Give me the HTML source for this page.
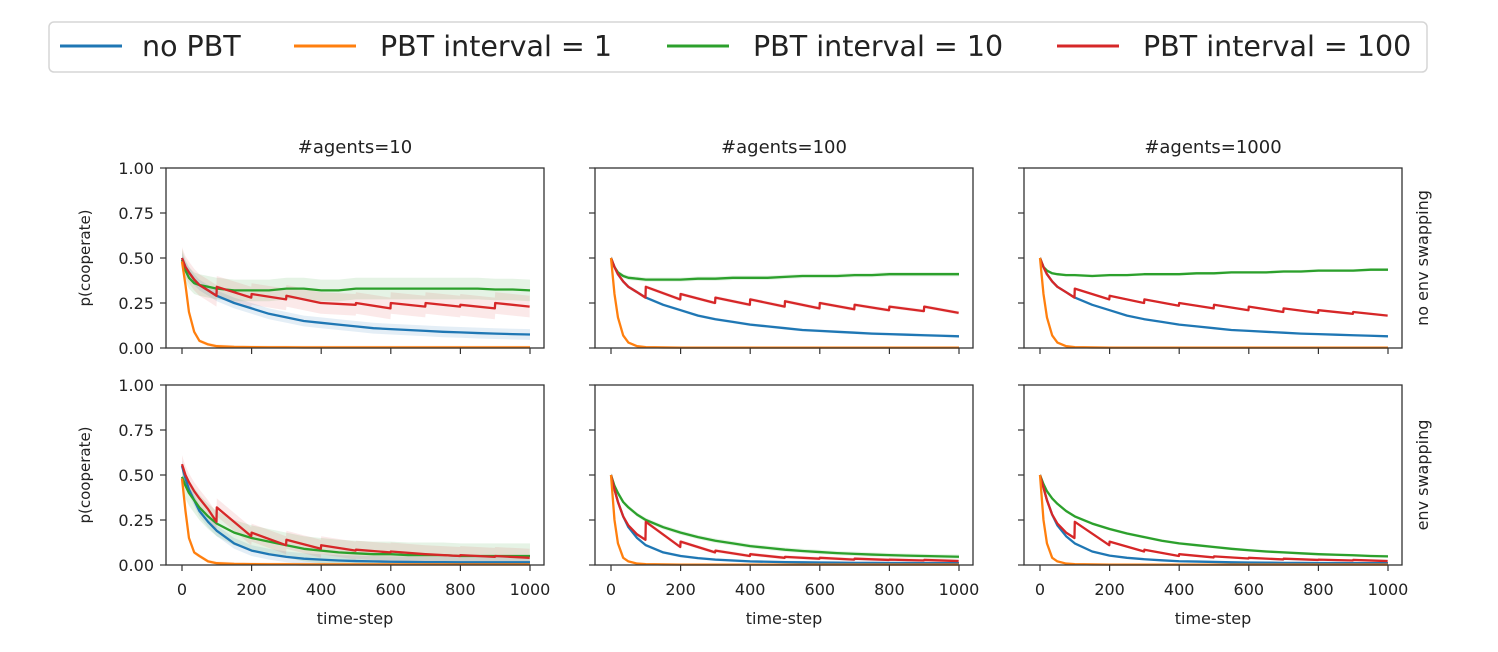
<!DOCTYPE html>
<html><head><meta charset="utf-8"><style>
html,body{margin:0;padding:0;background:#fff;}
svg{display:block;font-family:"DejaVu Sans","Liberation Sans",sans-serif;}
</style></head><body>
<svg id="chart" width="1498" height="652" viewBox="0 0 1498 652">
<g>
<rect x="49" y="22" width="1378" height="50" rx="5" fill="#fff" stroke="#d6d6d6" stroke-width="1.5"/>
<g><line x1="60" y1="46" x2="122" y2="46" stroke="#1f77b4" stroke-width="3"/><text x="142" y="56" font-size="28.5" fill="#222">no PBT</text></g>
<g><line x1="294" y1="46" x2="356" y2="46" stroke="#ff7f0e" stroke-width="3"/><text x="380" y="56" font-size="28.5" fill="#222">PBT interval = 1</text></g>
<g><line x1="667" y1="46" x2="729" y2="46" stroke="#2ca02c" stroke-width="3"/><text x="753" y="56" font-size="28.5" fill="#222">PBT interval = 10</text></g>
<g><line x1="1057" y1="46" x2="1119" y2="46" stroke="#d62728" stroke-width="3"/><text x="1143" y="56" font-size="28.5" fill="#222">PBT interval = 100</text></g>
</g>
<g id="panels"></g>
</svg>
<script>
// shared time grid for smooth series
const times = [0,10,20,35,50,75,100,150,200,250,300,350,400,450,500,550,600,650,700,750,800,850,900,950,1000];
const xTicks = [0,200,400,600,800,1000];
const yTicks = [0,0.25,0.5,0.75,1.0];
const yTickLabels = ["0.00","0.25","0.50","0.75","1.00"];
const colTitles = ["#agents=10","#agents=100","#agents=1000"];
const rowTitles = ["no env swapping","env swapping"];
const jumpTimes = [100,200,300,400,500,600,700,800,900];

// row 0 (no env swapping)
const blue_r0c0 = [0.50,0.45,0.42,0.38,0.35,0.32,0.29,0.25,0.22,0.19,0.17,0.15,0.14,0.13,0.12,0.11,0.105,0.10,0.095,0.09,0.087,0.083,0.08,0.077,0.075];
const orange_r0c0 = [0.48,0.35,0.20,0.09,0.04,0.02,0.01,0.006,0.005,0.004,0.004,0.003,0.003,0.003,0.003,0.003,0.003,0.003,0.003,0.003,0.003,0.003,0.003,0.003,0.003];
const green_r0c0 = [0.49,0.43,0.39,0.36,0.35,0.34,0.33,0.32,0.32,0.32,0.33,0.33,0.32,0.32,0.33,0.33,0.33,0.33,0.33,0.33,0.33,0.33,0.325,0.325,0.32];
const redStart_r0c0 = [0.34,0.30,0.29,0.25,0.25,0.25,0.25,0.24,0.25];
const redEnd_r0c0 = [0.28,0.27,0.25,0.24,0.22,0.23,0.23,0.22,0.23];

const blue_r0c1 = [0.50,0.45,0.41,0.37,0.34,0.31,0.28,0.24,0.21,0.18,0.16,0.145,0.13,0.12,0.11,0.10,0.095,0.09,0.085,0.08,0.077,0.074,0.071,0.068,0.065];
const orange_r0c1 = [0.50,0.30,0.17,0.07,0.03,0.01,0.005,0.003,0.002,0.002,0.002,0.002,0.002,0.002,0.002,0.002,0.002,0.002,0.002,0.002,0.002,0.002,0.002,0.002,0.002];
const green_r0c1 = [0.50,0.45,0.42,0.40,0.39,0.385,0.38,0.38,0.38,0.385,0.385,0.39,0.39,0.39,0.395,0.40,0.40,0.40,0.405,0.405,0.41,0.41,0.41,0.41,0.41];
const redStart_r0c1 = [0.34,0.30,0.28,0.27,0.26,0.25,0.24,0.23,0.23];
const redEnd_r0c1 = [0.27,0.25,0.24,0.23,0.22,0.215,0.21,0.205,0.195];

const blue_r0c2 = [0.50,0.45,0.41,0.37,0.34,0.31,0.28,0.24,0.21,0.18,0.16,0.145,0.13,0.12,0.11,0.10,0.095,0.09,0.085,0.08,0.077,0.074,0.071,0.068,0.065];
const orange_r0c2 = [0.50,0.30,0.17,0.07,0.03,0.01,0.005,0.003,0.002,0.002,0.002,0.002,0.002,0.002,0.002,0.002,0.002,0.002,0.002,0.002,0.002,0.002,0.002,0.002,0.002];
const green_r0c2 = [0.50,0.45,0.43,0.415,0.41,0.405,0.405,0.40,0.405,0.405,0.41,0.41,0.41,0.415,0.415,0.42,0.42,0.42,0.425,0.425,0.43,0.43,0.43,0.435,0.435];
const redStart_r0c2 = [0.33,0.29,0.27,0.25,0.24,0.23,0.22,0.21,0.20];
const redEnd_r0c2 = [0.27,0.25,0.235,0.22,0.21,0.20,0.195,0.19,0.18];

// row 1 (env swapping)
const blue_r1c0 = [0.55,0.48,0.42,0.36,0.30,0.24,0.19,0.12,0.08,0.06,0.045,0.035,0.03,0.025,0.022,0.02,0.018,0.017,0.016,0.016,0.015,0.015,0.015,0.015,0.015];
const orange_r1c0 = [0.48,0.30,0.15,0.07,0.05,0.02,0.01,0.006,0.005,0.004,0.004,0.003,0.003,0.003,0.003,0.003,0.003,0.003,0.003,0.003,0.003,0.003,0.003,0.003,0.003];
const green_r1c0 = [0.49,0.44,0.40,0.36,0.32,0.27,0.23,0.18,0.15,0.13,0.11,0.09,0.08,0.07,0.065,0.06,0.06,0.055,0.055,0.055,0.05,0.05,0.05,0.05,0.05];
const red0_r1c0 = [0.56,0.50,0.46,0.41,0.37,0.31,0.24];
const redStart_r1c0 = [0.32,0.18,0.14,0.11,0.085,0.075,0.06,0.055,0.05];
const redEnd_r1c0 = [0.16,0.11,0.09,0.08,0.07,0.06,0.05,0.045,0.04];

const blue_r1c1 = [0.50,0.42,0.35,0.27,0.21,0.15,0.11,0.07,0.05,0.038,0.03,0.025,0.02,0.018,0.016,0.015,0.014,0.013,0.012,0.012,0.011,0.011,0.01,0.01,0.01];
const orange_r1c1 = [0.50,0.25,0.12,0.04,0.02,0.008,0.005,0.003,0.002,0.002,0.002,0.002,0.002,0.002,0.002,0.002,0.002,0.002,0.002,0.002,0.002,0.002,0.002,0.002,0.002];
const green_r1c1 = [0.50,0.44,0.40,0.35,0.32,0.28,0.25,0.21,0.18,0.155,0.135,0.12,0.105,0.095,0.085,0.078,0.072,0.066,0.062,0.058,0.055,0.052,0.05,0.048,0.046];
const red0_r1c1 = [0.50,0.42,0.35,0.27,0.22,0.17,0.14];
const redStart_r1c1 = [0.24,0.13,0.08,0.06,0.045,0.04,0.035,0.03,0.028];
const redEnd_r1c1 = [0.10,0.07,0.05,0.04,0.035,0.03,0.028,0.025,0.022];

const blue_r1c2 = [0.50,0.43,0.36,0.28,0.22,0.16,0.12,0.075,0.052,0.04,0.032,0.026,0.021,0.019,0.017,0.015,0.014,0.013,0.012,0.012,0.011,0.011,0.01,0.01,0.01];
const orange_r1c2 = [0.50,0.25,0.12,0.04,0.02,0.008,0.005,0.003,0.002,0.002,0.002,0.002,0.002,0.002,0.002,0.002,0.002,0.002,0.002,0.002,0.002,0.002,0.002,0.002,0.002];
const green_r1c2 = [0.50,0.45,0.41,0.37,0.34,0.30,0.27,0.23,0.20,0.175,0.155,0.135,0.12,0.11,0.10,0.09,0.082,0.075,0.07,0.065,0.06,0.057,0.054,0.05,0.048];
const red0_r1c2 = [0.50,0.43,0.36,0.28,0.23,0.18,0.15];
const redStart_r1c2 = [0.24,0.13,0.085,0.06,0.048,0.04,0.035,0.03,0.028];
const redEnd_r1c2 = [0.11,0.075,0.05,0.042,0.036,0.031,0.028,0.025,0.022];

const panelsData = [
 [{blue:blue_r0c0,orange:orange_r0c0,green:green_r0c0,red0:null,rs:redStart_r0c0,re:redEnd_r0c0,bw:[0.03,0.01,0.06,0.06]},
  {blue:blue_r0c1,orange:orange_r0c1,green:green_r0c1,red0:null,rs:redStart_r0c1,re:redEnd_r0c1,bw:[0.008,0.004,0.012,0.01]},
  {blue:blue_r0c2,orange:orange_r0c2,green:green_r0c2,red0:null,rs:redStart_r0c2,re:redEnd_r0c2,bw:[0.005,0.003,0.008,0.006]}],
 [{blue:blue_r1c0,orange:orange_r1c0,green:green_r1c0,red0:red0_r1c0,rs:redStart_r1c0,re:redEnd_r1c0,bw:[0.03,0.01,0.07,0.05]},
  {blue:blue_r1c1,orange:orange_r1c1,green:green_r1c1,red0:red0_r1c1,rs:redStart_r1c1,re:redEnd_r1c1,bw:[0.008,0.004,0.012,0.01]},
  {blue:blue_r1c2,orange:orange_r1c2,green:green_r1c2,red0:red0_r1c2,rs:redStart_r1c2,re:redEnd_r1c2,bw:[0.005,0.003,0.008,0.006]}]
];

const NS="http://www.w3.org/2000/svg";
const colLeft=[166,595,1024], colW=378;
const rowTop=[168,385], rowH=180;
const xPad=16;
const root=document.getElementById('panels');
function mk(tag,attrs,parent){const e=document.createElementNS(NS,tag);for(const k in attrs)e.setAttribute(k,attrs[k]);parent.appendChild(e);return e;}

for(let r=0;r<2;r++)for(let c=0;c<3;c++){
 const L=colLeft[c],T=rowTop[r];
 const xs=t=>L+xPad+(t/1000)*(colW-2*xPad+2);
 const ys=v=>T+rowH-v*rowH;
 const g=mk('g',{},root);
 
 
 const d=panelsData[r][c];
 const series=[['blue','#1f77b4',d.blue,d.bw[0]],['orange','#ff7f0e',d.orange,d.bw[1]],['green','#2ca02c',d.green,d.bw[2]]];
 series.forEach(s=>{
  const up=times.map((t,i)=>xs(t)+','+ys(s[2][i]+s[3])).join(' ');
  const dn=times.map((t,i)=>xs(t)+','+ys(Math.max(0,s[2][i]-s[3]))).reverse().join(' ');
  const p=mk('polygon',{points:up+' '+dn,fill:s[1],'fill-opacity':0.12},g);
  
  
 });
 const redPts=[];
 const first=d.red0||d.blue.slice(0,7);
 for(let i=0;i<7;i++)redPts.push([times[i],first[i]]);
 redPts[6]=[99,first[6]];
 for(let k=0;k<9;k++){redPts.push([jumpTimes[k],d.rs[k]]);redPts.push([jumpTimes[k]+99,d.re[k]]);}
 const rbw=d.bw[3];
 const rup=redPts.map(p=>xs(p[0])+','+ys(p[1]+rbw)).join(' ');
 const rdn=redPts.map(p=>xs(p[0])+','+ys(Math.max(0,p[1]-rbw))).reverse().join(' ');
 const rb=mk('polygon',{points:rup+' '+rdn,fill:'#d62728','fill-opacity':0.1},g);
 
 
 const order=[series[0],series[2],null,series[1]];
 order.forEach(s=>{
  if(s===null){
   const pl=mk('polyline',{points:redPts.map(p=>xs(p[0])+','+ys(p[1])).join(' '),fill:'none',stroke:'#d62728','stroke-width':2.3,'stroke-linejoin':'round'},g);
   
   
   return;
  }
  const pl=mk('polyline',{points:times.map((t,i)=>xs(t)+','+ys(s[2][i])).join(' '),fill:'none',stroke:s[1],'stroke-width':2.3,'stroke-linejoin':'round'},g);
  
  
 });
 const fr=mk('rect',{x:L,y:T,width:colW,height:rowH,fill:'none',stroke:'#333','stroke-width':1.3},g);
 
 
 yTicks.forEach((v,i)=>{
  mk('line',{x1:L-6,x2:L,y1:ys(v),y2:ys(v),stroke:'#333','stroke-width':1.2},g);
  if(c===0){const t=mk('text',{x:L-12,y:ys(v)+6,'font-size':16,'text-anchor':'end',fill:'#222'},g);t.textContent=yTickLabels[i];
   
   }
 });
 xTicks.forEach(v=>{
  mk('line',{x1:xs(v),x2:xs(v),y1:T+rowH,y2:T+rowH+6,stroke:'#333','stroke-width':1.2},g);
  if(r===1){const t=mk('text',{x:xs(v),y:T+rowH+30,'font-size':16,'text-anchor':'middle',fill:'#222'},g);t.textContent=v;
   
   }
 });
 if(c===0){const t=mk('text',{transform:'translate('+(L-76)+','+(T+rowH/2)+') rotate(-90)','font-size':15,'text-anchor':'middle',fill:'#222'},g);t.textContent='p(cooperate)';
  
  }
 if(r===1){const t=mk('text',{x:L+colW/2,y:T+rowH+59,'font-size':16,'text-anchor':'middle',fill:'#222'},g);t.textContent='time-step';
  
  }
 if(r===0){const t=mk('text',{x:L+colW/2,y:T-15,'font-size':18,'text-anchor':'middle',fill:'#222'},g);t.textContent=colTitles[c];
  
  }
 if(c===2){const t=mk('text',{transform:'translate('+(L+colW+26)+','+(T+rowH/2)+') rotate(-90)','font-size':16,'text-anchor':'middle',fill:'#222'},g);t.textContent=rowTitles[r];
  
  }
}
</script>
</body></html>
